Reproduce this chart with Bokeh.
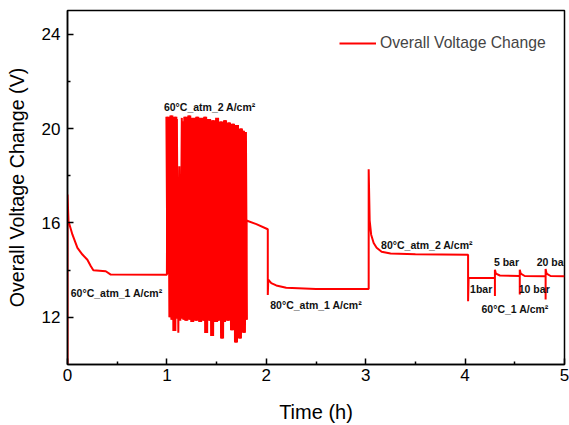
from bokeh.plotting import figure
from bokeh.models import FixedTicker, Legend, LegendItem, Range1d, ColumnDataSource
from bokeh.core.properties import value
from bokeh.embed import file_html
from bokeh.resources import INLINE

# ---- data ----
seg1_t = [0.0, 0.0, 0.01, 0.05, 0.10, 0.15, 0.20, 0.235, 0.26, 0.385, 0.435, 1.0]
seg1_v = [10.0, 17.2, 16.07, 15.5, 14.94, 14.66, 14.44, 14.16, 13.99, 13.95, 13.81, 13.8]

osc_t = [1.005, 1.015, 1.025, 1.035, 1.045, 1.055, 1.065, 1.075, 1.085, 1.095,
         1.100, 1.115, 1.125, 1.135, 1.150, 1.155, 1.165, 1.175, 1.185, 1.195,
         1.205, 1.215, 1.225, 1.235, 1.245, 1.255, 1.265, 1.275, 1.285, 1.295,
         1.305, 1.315, 1.325, 1.335, 1.345, 1.355, 1.365, 1.375, 1.385, 1.395,
         1.405, 1.415, 1.425, 1.435, 1.445, 1.455, 1.465, 1.475, 1.485, 1.495,
         1.505, 1.515, 1.525, 1.535, 1.545, 1.555, 1.565, 1.575, 1.585, 1.595,
         1.605, 1.615, 1.625, 1.635, 1.645, 1.655, 1.665, 1.675, 1.685, 1.695,
         1.705, 1.715, 1.725, 1.735, 1.745, 1.755, 1.765, 1.775, 1.785, 1.795]
osc_v = [20.5, 13.85, 20.45, 12.0, 20.55, 11.9, 20.3, 11.42, 20.5, 11.95,
         20.4, 11.35, 18.4, 11.85, 20.45, 11.95, 20.3, 11.9, 20.5, 11.85,
         20.4, 11.95, 20.55, 11.9, 20.35, 11.8, 20.45, 11.95, 20.2, 11.85,
         20.5, 11.9, 20.35, 11.8, 20.45, 11.95, 20.25, 11.85, 20.5, 11.33,
         20.3, 11.9, 20.4, 11.85, 20.1, 11.21, 20.35, 11.9, 20.2, 11.8,
         20.45, 11.85, 20.15, 11.9, 20.3, 11.1, 20.2, 11.8, 20.35, 11.95,
         20.0, 11.85, 20.25, 12.0, 20.1, 11.45, 20.2, 11.9, 19.95, 10.93,
         20.15, 11.85, 19.8, 11.1, 20.0, 11.9, 19.9, 11.35, 19.85, 11.9]

seg3_t = [1.80, 1.90, 2.015, 2.015, 2.02, 2.05, 2.10, 2.20, 2.50, 3.03]
seg3_v = [16.1, 15.95, 15.73, 12.95, 13.6, 13.45, 13.35, 13.25, 13.2, 13.2]

seg4_t = [3.03, 3.04, 3.055, 3.08, 3.11, 3.16, 3.25, 3.5, 4.03]
seg4_v = [18.27, 16.1, 15.5, 15.15, 14.95, 14.78, 14.7, 14.67, 14.65]

seg5_t = [4.03, 4.035, 4.30, 4.30, 4.30, 4.31, 4.35, 4.55, 4.55, 4.55,
          4.56, 4.60, 4.81, 4.81, 4.81, 4.82, 4.86, 5.0]
seg5_v = [12.68, 13.67, 13.67, 12.9, 14.02, 13.85, 13.77, 13.75, 12.97, 14.02,
          13.85, 13.75, 13.74, 12.75, 14.05, 13.85, 13.75, 13.74]

ann_t = [0.033, 0.97, 2.04, 3.155, 4.05, 4.29, 4.54, 4.72, 4.165]
ann_v = [13.05, 20.89, 12.54, 15.08, 13.2, 14.33, 13.2, 14.33, 12.37]
ann_text = ["60°C_atm_1 A/cm²", "60°C_atm_2 A/cm²", "80°C_atm_1 A/cm²",
            "80°C_atm_2 A/cm²", "1bar", "5 bar", "10 bar", "20 bar", "60°C_1 A/cm²"]

x_ticks = [0, 1, 2, 3, 4, 5]
x_minor = [0.5, 1.5, 2.5, 3.5, 4.5]
y_ticks = [12, 16, 20, 24]
y_minor = [14, 18, 22]

t_all = seg1_t + osc_t + seg3_t + seg4_t + seg5_t
v_all = seg1_v + osc_v + seg3_v + seg4_v + seg5_v

FONT = "Liberation Sans"

p = figure(width=569, height=425, x_range=Range1d(0, 5), y_range=Range1d(10, 25),
           output_backend="svg", toolbar_location=None,
           min_border_left=67, min_border_right=5, min_border_top=10, min_border_bottom=60)
p.background_fill_color = "white"
p.border_fill_color = "white"
p.xgrid.visible = False
p.ygrid.visible = False
p.outline_line_color = "black"
p.outline_line_width = 1.5
p.outline_line_alpha = 1.0

r = p.line(t_all, v_all, line_color="#ff0000", line_width=2)
# heavier stroke over the oscillating section (leaving the notch near 1.12 h open)
p.line(osc_t[:10], osc_v[:10], line_color="#ff0000", line_width=4)
p.line(osc_t[15:], osc_v[15:], line_color="#ff0000", line_width=4)

src = ColumnDataSource(dict(x=ann_t, y=ann_v, text=ann_text))
p.text(x="x", y="y", text="text", source=src, text_font=value(FONT),
       text_font_style="bold", text_font_size="10.5px", text_color="#111111",
       text_align="left", text_baseline="middle")

p.xaxis.ticker = FixedTicker(ticks=x_ticks, minor_ticks=x_minor)
p.yaxis.ticker = FixedTicker(ticks=y_ticks, minor_ticks=y_minor)
for ax in (p.xaxis[0], p.yaxis[0]):
    ax.axis_line_width = 1.5
    ax.axis_line_color = "black"
    ax.major_tick_line_width = 1.5
    ax.minor_tick_line_width = 1.5
    ax.major_tick_in = 6
    ax.major_tick_out = 0
    ax.minor_tick_in = 3
    ax.minor_tick_out = 0
    ax.major_label_text_font = FONT
    ax.major_label_text_font_size = "17px"
    ax.major_label_text_color = "black"
    ax.axis_label_text_font = FONT
    ax.axis_label_text_font_style = "normal"
    ax.axis_label_text_color = "black"

p.xaxis.axis_label = "Time (h)"
p.xaxis.axis_label_text_font_size = "20px"
p.xaxis.major_label_standoff = 4
p.xaxis.axis_label_standoff = 17
p.yaxis.axis_label = "Overall Voltage Change (V)"
p.yaxis.axis_label_text_font_size = "19.7px"
p.yaxis.major_label_standoff = 7
p.yaxis.axis_label_standoff = 11

legend = Legend(items=[LegendItem(label="Overall Voltage Change", renderers=[r])],
                location=(272, 311), padding=0, margin=0, spacing=0,
                glyph_width=37, glyph_height=20, label_height=20, label_standoff=4,
                label_text_font=FONT, label_text_font_size="15.7px",
                border_line_alpha=0, background_fill_alpha=0)
p.add_layout(legend)

open("out.html", "w").write(file_html(p, INLINE))
